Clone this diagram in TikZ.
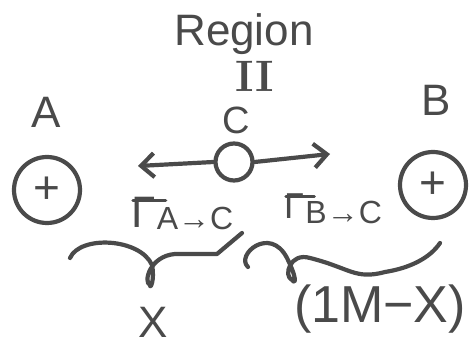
\documentclass[tikz,border=0pt]{standalone}
\usepackage{fontspec}
\setmainfont{Liberation Sans}
\usetikzlibrary{arrows.meta,positioning}
\definecolor{ink}{HTML}{4A4A4A}
\begin{document}
\begin{tikzpicture}[x=1pt,y=-1pt,
  ink/.style={draw=ink,line width=4.2pt,line cap=round,line join=round},
  lbl/.style={text=ink,inner sep=0pt,font=\fontsize{#1}{#1}\selectfont},
  charge/.style={ink,circle,minimum size=66pt,inner sep=0pt,text=ink,font=\fontsize{46}{46}\selectfont},
  tip/.style={-{Straight Barb[length=13pt,width=24pt,line width=4.2pt]}}]
\useasboundingbox (0,0) rectangle (471,352);
\fill[white] (0,0) rectangle (471,352);
% labels
\node[lbl=44] (region) at (244,34) {Region};
\node[lbl=44] (roman) at (255,76) {\fontspec{Latin Modern Roman}\bfseries II};
\node[lbl=38] (clbl) at (236,120) {C};
\node[lbl=44] (alb) at (46,112) {A};
\node[lbl=44] (blb) at (436,100) {B};
% charges
\node[charge] (qa) at (47,190) {+};
\node[charge] (qb) at (433,185) {+};
% test charge C
\node[ink,circle,minimum size=37pt,inner sep=0pt] (qc) at (234,162) {};
\coordinate (lt) at (138,166);
\coordinate (rt) at (330,154);
\draw[ink,tip] (qc.west) -- (lt);
\draw[ink,tip] (qc.east) -- (rt);
% fluxes
\node[lbl=44,anchor=west] (gA) at (131,212) {Γ};
\node[lbl=32,anchor=south west] (sA) at ([xshift=1pt,yshift=-3pt]gA.base east) {A→C};
\draw[ink,line width=3.4pt] ([xshift=2pt,yshift=-4pt]gA.north west) -- ([xshift=10pt,yshift=-4pt]gA.north east);
\node[lbl=36,anchor=west] (gB) at (284,206) {Γ};
\node[lbl=32,anchor=south west] (sB) at ([xshift=1pt,yshift=-6pt]gB.base east) {B→C};
\draw[ink,line width=3.4pt] ([xshift=2pt,yshift=-3pt]gB.north west) -- ([xshift=10pt,yshift=-3pt]gB.north east);
% braces
\coordinate (b1s) at (70,258);
\coordinate (b1m) at (150,285);
\coordinate (b1e) at (242,233);
\draw[ink] (b1s) .. controls (80,235) and (140,238) .. (152,265)
  .. controls (155,280) and (150,290) .. (b1m)
  .. controls (143,282) and (150,256) .. (175,254)
  -- (217,254) -- (b1e);
\coordinate (b2s) at (248,267);
\coordinate (b2m) at (292,280);
\coordinate (b2e) at (440,243);
\draw[ink] (b2s) .. controls (235,255) and (270,225) .. (287,258)
  .. controls (297,278) and (296,285) .. (b2m)
  .. controls (283,276) and (290,252) .. (310,258)
  .. controls (350,268) and (355,280) .. (385,272)
  .. controls (410,268) and (430,258) .. (b2e);
% distances
\node[lbl=44] (xl) at (153,322) {X};
\node[lbl=52] (xr) at (380,309) {(1M−X)};
\end{tikzpicture}
\end{document}
